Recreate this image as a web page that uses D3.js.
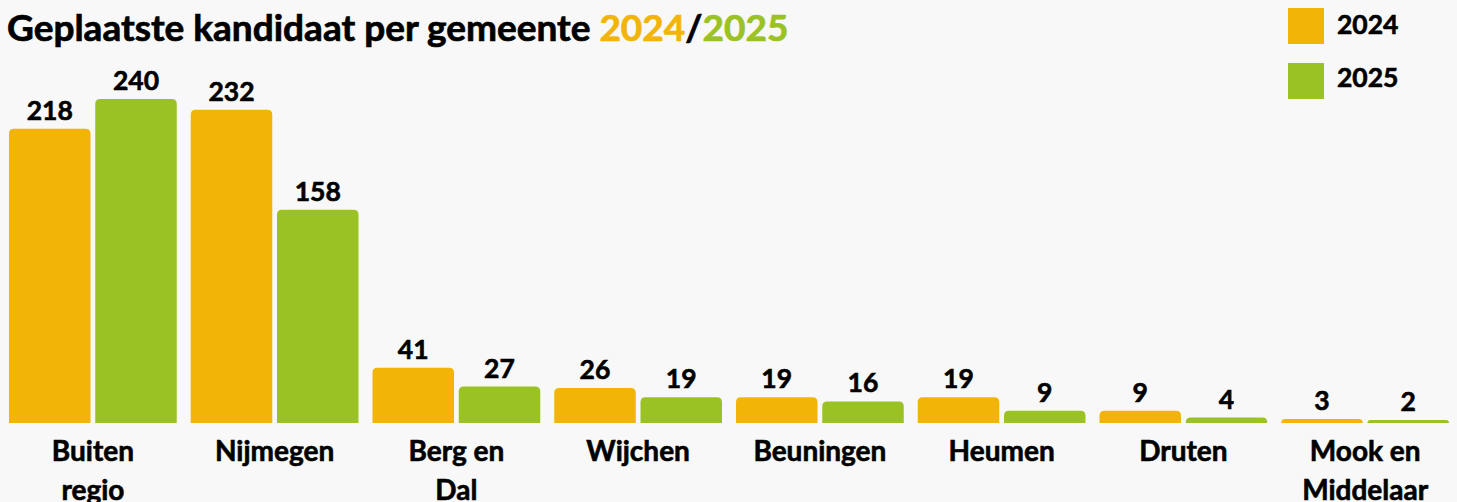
<!DOCTYPE html>
<html>
<head>
<meta charset="utf-8">
<script src="https://cdn.jsdelivr.net/npm/d3@7"></script>
<style>
  html, body { margin: 0; padding: 0; background: #F7F8F7; }
  svg { display: block; }
  text { font-family: Lato, "Open Sans", sans-serif; font-weight: 700; }
</style>
</head>
<body>
<svg id="chart" width="1457" height="502"></svg>
<script>
const categories = ["Buiten\nregio", "Nijmegen", "Berg en\nDal", "Wijchen", "Beuningen", "Heumen", "Druten", "Mook en\nMiddelaar"];
const seriesNames = ["2024", "2025"];
const values2024 = [218, 232, 41, 26, 19, 19, 9, 3];
const values2025 = [240, 158, 27, 19, 16, 9, 4, 2];
const colors = { "2024": "#F2B406", "2025": "#9BC224" };

const W = 1457, H = 502;
const svg = d3.select("#chart");
svg.append("rect").attr("width", W).attr("height", H).attr("fill", "#F7F8F7");

const data = categories.map((c, i) => ({ cat: c, vals: [
  { key: "2024", v: values2024[i] },
  { key: "2025", v: values2025[i] }
]}));

const x0 = d3.scaleBand().domain(categories).range([2, 1456]).paddingInner(0.077).paddingOuter(0.0385);
const x1 = d3.scaleBand().domain(seriesNames).range([0, x0.bandwidth()]).paddingInner(0.055);
const y = d3.scaleLinear().domain([0, 240]).range([423, 99]);

function topRounded(x, yTop, w, h, r) {
  r = Math.min(r, h, w / 2);
  return `M${x},${yTop + h}V${yTop + r}Q${x},${yTop} ${x + r},${yTop}H${x + w - r}Q${x + w},${yTop} ${x + w},${yTop + r}V${yTop + h}Z`;
}

const groups = svg.append("g").selectAll("g").data(data).join("g")
  .attr("transform", d => `translate(${x0(d.cat)},0)`);

groups.selectAll("path").data(d => d.vals).join("path")
  .attr("d", d => {
    const h = Math.max(y(0) - y(d.v), 3);
    return topRounded(x1(d.key), y(0) - h, x1.bandwidth(), h, 5);
  })
  .attr("fill", d => colors[d.key]);

groups.selectAll("text.val").data(d => d.vals).join("text")
  .attr("class", "val")
  .attr("x", d => x1(d.key) + x1.bandwidth() / 2)
  .attr("y", d => Math.min(y(d.v), y(0) - 3) - 9)
  .attr("text-anchor", "middle")
  .attr("font-size", 26.5)
  .attr("fill", "#000").attr("stroke", "#000").attr("stroke-width", 0.6)
  .text(d => d.v);

// category axis
const axis = svg.append("g").attr("transform", `translate(0,${y(0)})`)
  .call(d3.axisBottom(x0).tickSize(0).tickPadding(0));
axis.select(".domain").remove();
axis.selectAll(".tick text").each(function(d) {
  const t = d3.select(this);
  t.text(null).attr("y", 0).attr("dy", null)
    .attr("font-size", 28).attr("font-family", "Lato, 'Open Sans', sans-serif")
    .attr("font-weight", 700).attr("fill", "#000").attr("stroke", "#000").attr("stroke-width", 0.6);
  d.split("\n").forEach((line, i) => {
    t.append("tspan").attr("x", 0).attr("y", 38 + i * 39).text(line);
  });
});

// title
const title = svg.append("text").attr("x", 7).attr("y", 41)
  .attr("font-size", 37).attr("fill", "#000").attr("stroke-width", 0.7);
title.append("tspan").attr("stroke", "#000").text("Geplaatste kandidaat per gemeente ");
title.append("tspan").attr("fill", colors["2024"]).attr("stroke", colors["2024"]).text("2024");
title.append("tspan").attr("stroke", "#000").text("/");
title.append("tspan").attr("fill", colors["2025"]).attr("stroke", colors["2025"]).text("2025");

// legend
const legend = svg.append("g");
seriesNames.forEach((s, i) => {
  legend.append("rect").attr("x", 1288).attr("y", 8 + i * 55).attr("width", 36).attr("height", 36).attr("fill", colors[s]);
  legend.append("text").attr("x", 1337).attr("y", 34 + i * 53).attr("font-size", 26.5)
    .attr("fill", "#000").attr("stroke", "#000").attr("stroke-width", 0.6).text(s);
});
</script>
</body>
</html>
